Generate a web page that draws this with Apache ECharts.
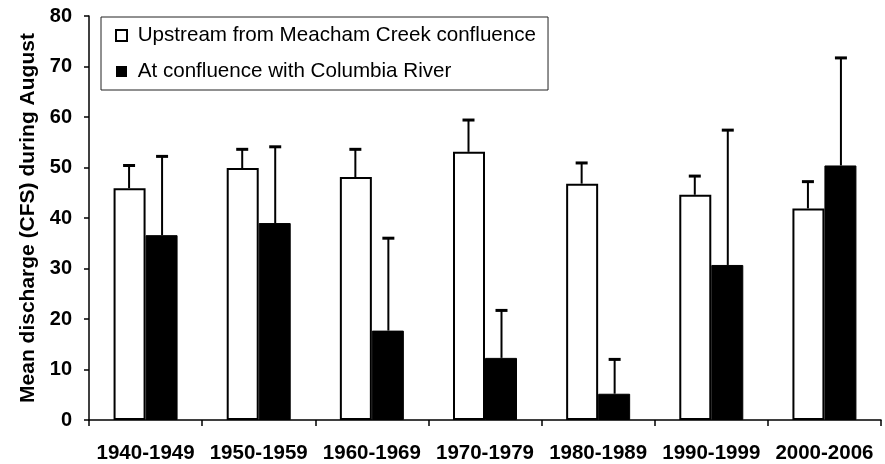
<!DOCTYPE html>
<html>
<head>
<meta charset="utf-8">
<script src="https://cdn.jsdelivr.net/npm/echarts@6/dist/echarts.min.js"></script>
<style>
  html, body { margin: 0; padding: 0; background: #fff; }
  #main { width: 885px; height: 464px; }
</style>
</head>
<body>
<div id="main"></div>
<script>
// decades on the x axis
const decades = ['1940-1949', '1950-1959', '1960-1969', '1970-1979', '1980-1989', '1990-1999', '2000-2006'];
// mean August discharge (CFS)
const upstream = [45.9, 49.9, 48.1, 53.1, 46.8, 44.6, 41.9];
const confluence = [36.6, 39.0, 17.7, 12.3, 5.2, 30.7, 50.4];
// top of the error bar for each series
const upstreamTop = [50.4, 53.6, 53.6, 59.4, 50.9, 48.3, 47.2];
const confluenceTop = [52.2, 54.1, 36.0, 21.7, 12.0, 57.4, 71.7];
const yTicks = [0, 10, 20, 30, 40, 50, 60, 70, 80];

const BAR_W = 32;
const FONT = '"Liberation Sans", Arial, sans-serif';

function errorSeries(means, tops, side) {
    return {
        type: 'custom',
        silent: true,
        z: 5,
        data: means.map((m, i) => [i, m, tops[i]]),
        renderItem: function (params, api) {
            let base = api.coord([api.value(0), api.value(1)]);
            let top = api.coord([api.value(0), api.value(2)]);
            let x = base[0] + side * (BAR_W / 2 + 0.5);
            return {
                type: 'group',
                children: [
                    {
                        type: 'line',
                        shape: { x1: x, y1: base[1], x2: x, y2: top[1] },
                        style: { stroke: '#000', lineWidth: 2 }
                    },
                    {
                        type: 'line',
                        shape: { x1: x - 6, y1: top[1], x2: x + 6, y2: top[1] },
                        style: { stroke: '#000', lineWidth: 3 }
                    }
                ]
            };
        }
    };
}

var chart = echarts.init(document.getElementById('main'));

chart.setOption({
    animation: false,
    backgroundColor: '#fff',
    textStyle: { fontFamily: FONT },
    grid: { left: 89, right: 4, top: 16, bottom: 43 },
    legend: {
        orient: 'vertical',
        left: 101,
        top: 17,
        padding: [8, 12, 8, 14],
        itemGap: 15,
        itemWidth: 11,
        itemHeight: 11,
        borderColor: '#222',
        borderWidth: 1,
        formatter: name => ' ' + name,
        textStyle: { fontFamily: FONT, fontSize: 20.6, color: '#000' },
        data: [
            { name: 'Upstream from Meacham Creek confluence', icon: 'rect', itemStyle: { color: '#fff', borderColor: '#000', borderWidth: 2 } },
            { name: 'At confluence with Columbia River', icon: 'rect', itemStyle: { color: '#000', borderColor: '#000', borderWidth: 0 } }
        ]
    },
    xAxis: {
        type: 'category',
        data: decades,
        axisLine: { lineStyle: { color: '#000', width: 1.5 } },
        axisTick: { show: true, length: 6, lineStyle: { color: '#000', width: 1.5 } },
        axisLabel: { color: '#000', fontWeight: 'bold', fontSize: 20.5, margin: 23, fontFamily: FONT, interval: 0 }
    },
    yAxis: {
        type: 'value',
        min: yTicks[0],
        max: yTicks[yTicks.length - 1],
        interval: 10,
        name: 'Mean discharge (CFS) during August',
        nameLocation: 'middle',
        nameGap: 50,
        nameTextStyle: { color: '#000', fontWeight: 'bold', fontSize: 21, fontFamily: FONT },
        splitLine: { show: false },
        axisLine: { show: true, lineStyle: { color: '#000', width: 1.5 } },
        axisTick: { show: true, length: 5, lineStyle: { color: '#000', width: 1.5 } },
        axisLabel: { color: '#000', fontWeight: 'bold', fontSize: 20, margin: 17, fontFamily: FONT }
    },
    series: [
        {
            name: 'Upstream from Meacham Creek confluence',
            type: 'bar',
            data: upstream,
            barWidth: BAR_W,
            barGap: '0%',
            itemStyle: { color: '#fff', borderColor: '#000', borderWidth: 2 }
        },
        {
            name: 'At confluence with Columbia River',
            type: 'bar',
            data: confluence,
            barWidth: BAR_W,
            barGap: '0%',
            itemStyle: { color: '#000', borderColor: '#000', borderWidth: 1 }
        },
        errorSeries(upstream, upstreamTop, -1),
        errorSeries(confluence, confluenceTop, 1)
    ]
});
</script>
</body>
</html>
